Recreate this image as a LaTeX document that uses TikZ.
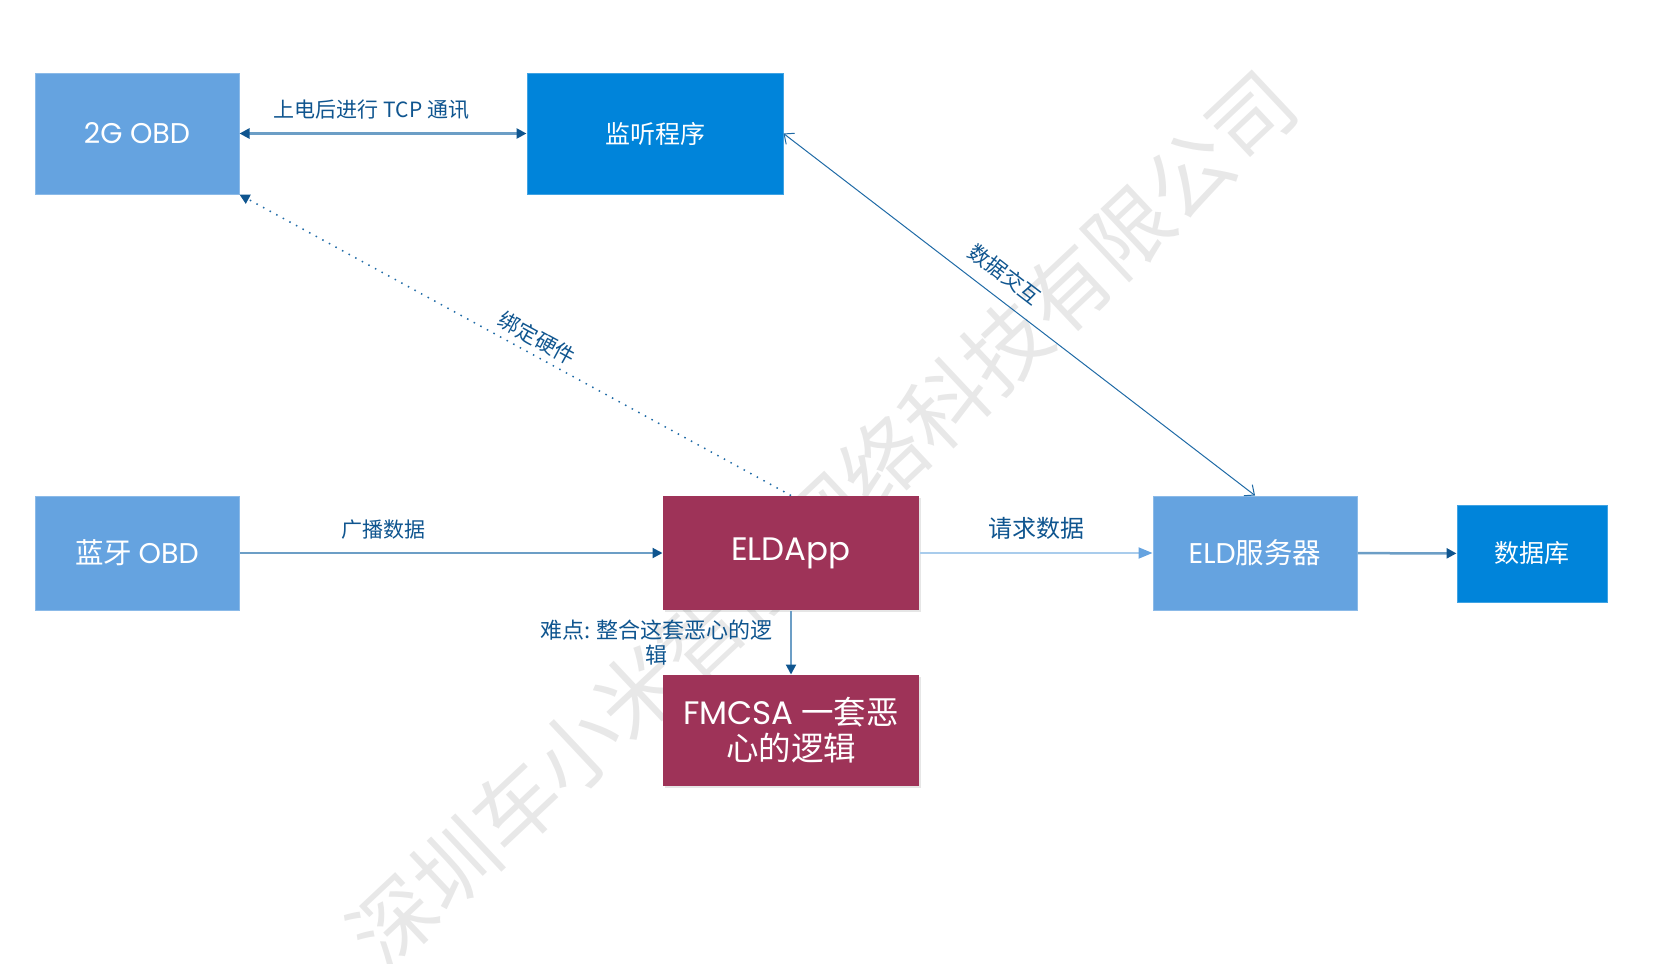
\documentclass[tikz,border=0pt]{standalone}
\usepackage{fontspec}
\setmainfont{Noto Sans CJK SC}
\newfontfamily\geo{Poppins}
\usetikzlibrary{arrows.meta,shadows}
\definecolor{paleblue}{HTML}{65A3E0}
\definecolor{deepblue}{HTML}{0084DA}
\definecolor{wine}{HTML}{9E3358}
\definecolor{ink}{HTML}{0F558F}
\definecolor{wire}{HTML}{6C9EC6}
\definecolor{faint}{HTML}{A9CCEC}
\definecolor{linkblue}{HTML}{1F6AA6}
\definecolor{stamp}{HTML}{E8E8E8}
\tikzset{box/.style={rectangle,text=white,inner sep=0pt,align=center,line width=1pt}}
\tikzset{pale/.style={box,fill=paleblue,draw=paleblue!75!white,font=\fontsize{28.5}{32}\selectfont}}
\tikzset{deep/.style={box,fill=deepblue,draw=deepblue!75!white,font=\fontsize{25}{30}\selectfont}}
\tikzset{winebox/.style={box,fill=wine,font=\fontsize{32.5}{36}\selectfont,drop shadow={shadow xshift=2pt,shadow yshift=-2pt,opacity=0.2}}}
\tikzset{lab/.style={text=ink,inner sep=2pt,font=\fontsize{21}{24}\selectfont}}
\tikzset{tri/.style={-{Triangle[length=10pt,width=10pt,color=ink]}}}

\begin{document}
\begin{tikzpicture}[x=1pt,y=-1pt]
  \useasboundingbox (0,0) rectangle (1666,964);
  \begin{scope}
    \clip (0,0) rectangle (1666,964);
    \node[rotate=43.2,text=stamp,font=\fontsize{84}{84}\selectfont] (mark) at (822,519) {深圳车小米智能网络科技有限公司};
  \end{scope}
  \node[pale,minimum width=204pt,minimum height=121pt] (obdtwo) at (137,133.5) {\geo 2G OBD};
  \node[deep,minimum width=256pt,minimum height=121pt] (listen) at (655,133.5) {监听程序}
    edge [wire,line width=2.5pt,{Triangle[length=10pt,width=10pt,color=ink]}-{Triangle[length=10pt,width=10pt,color=ink]}]
      node [lab,above=11pt,pos=0.54] {上电后进行 TCP 通讯} (obdtwo);
  \node[pale,minimum width=204pt,minimum height=114pt] (obdbt) at (137,553) {蓝牙 {\geo OBD}};
  \node[winebox,minimum width=256pt,minimum height=114pt] (app) at (791,553) {\geo ELDApp}
    edge [wire,line width=2pt,{Triangle[length=10pt,width=10pt,color=ink]}-]
      node [lab,above=11pt,pos=0.66] {广播数据} (obdbt);
  \node[winebox,minimum width=256pt,minimum height=111pt] (rules) at (791,730.5) {{\geo FMCSA} 一套恶\\心的逻辑}
    edge [wire,line width=2pt,{Triangle[length=10pt,width=10pt,color=ink]}-]
      node [lab,left=15pt,align=center,font=\fontsize{22}{24.5}\selectfont] {难点: 整合这套恶心的逻\\辑} (app);
  \node[pale,minimum width=204pt,minimum height=114pt] (server) at (1255,553) {{\geo ELD}服务器}
    edge [faint,line width=2pt,{Triangle[length=14pt,width=11pt,color=paleblue]}-]
      node [lab,above=11pt,font=\fontsize{24}{26}\selectfont] {请求数据} (app);
  \node[deep,minimum width=150pt,minimum height=97pt] (db) at (1532,553.5) {数据库}
    edge [wire,line width=2.5pt,{Triangle[length=10pt,width=10pt,color=ink]}-] (server);
  \draw[linkblue,line width=1pt,{Straight Barb[length=8pt,width=14pt]}-{Straight Barb[length=8pt,width=14pt]}]
    (listen.east) -- node [lab,sloped,above=11pt,pos=0.44] {数据交互} (server.north);
  \draw[linkblue,line width=1.5pt,dash pattern=on 1.5pt off 6pt,tri]
    (app.north) -- node [lab,sloped,above=4pt,pos=0.475] {绑定硬件} (obdtwo.south east);
\end{tikzpicture}
\end{document}
